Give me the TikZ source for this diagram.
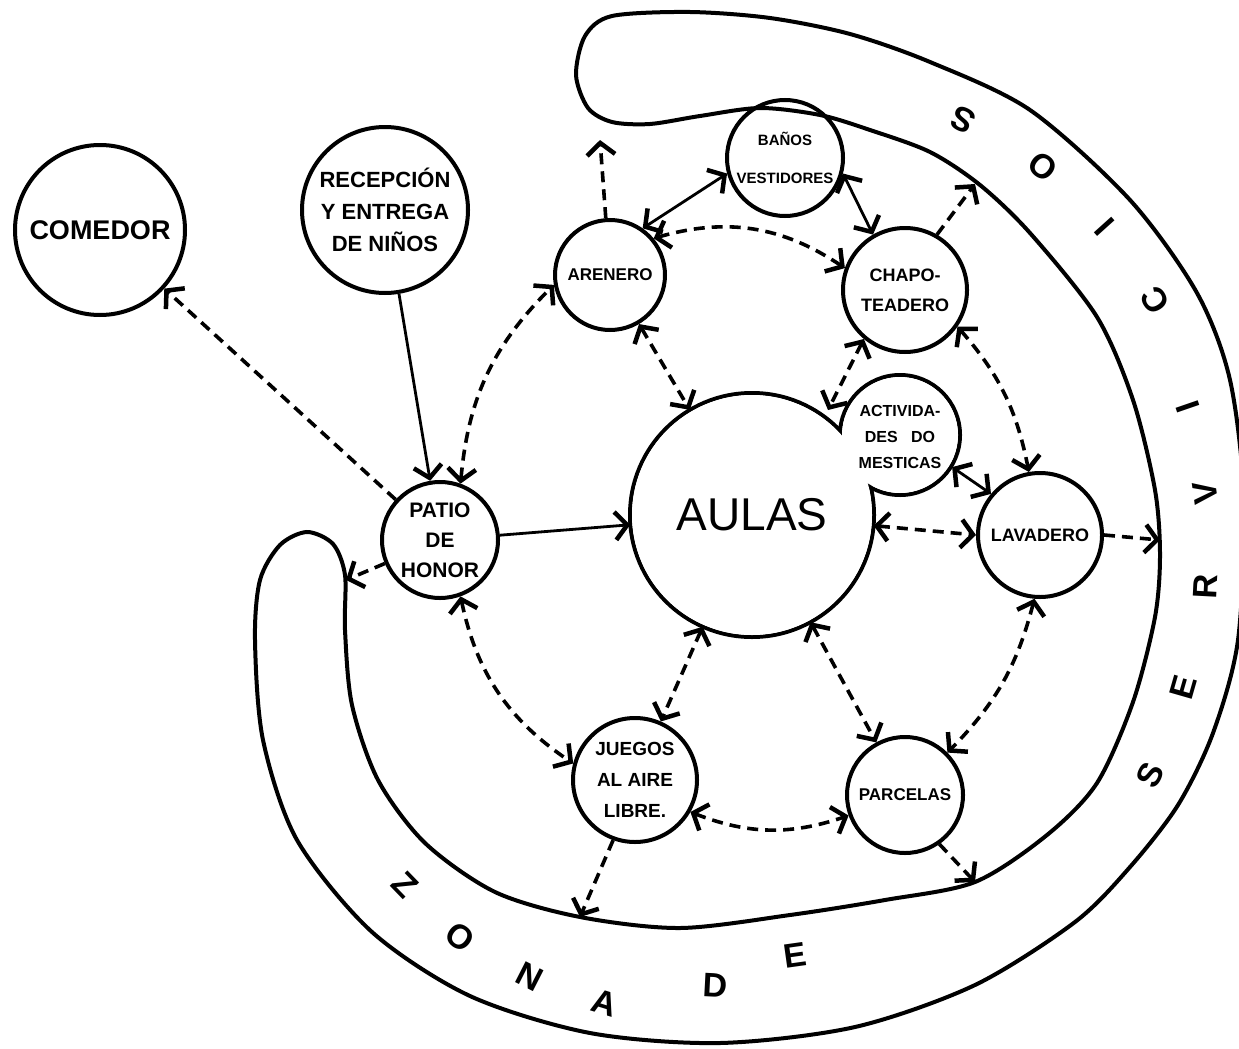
\documentclass[tikz,border=0pt]{standalone}
\usepackage{fontspec}
\setmainfont{Liberation Sans}
\usetikzlibrary{arrows.meta}
\begin{document}
\begin{tikzpicture}[x=1pt,y=-1pt,
  room/.style={circle,draw,line width=4pt,inner sep=0pt,align=center},
  dashline/.style={line width=3.6pt,dash pattern=on 11pt off 7pt},
  solidline/.style={line width=2.8pt},
  onehead/.style={-{Straight Barb[length=12pt,width=28pt,line width=4.5pt]}},
  twoheads/.style={{Straight Barb[length=12pt,width=28pt,line width=4.5pt]}-{Straight Barb[length=12pt,width=28pt,line width=4.5pt]}},
  bandletter/.style={font=\bfseries\fontsize{34}{34}\selectfont,inner sep=0pt}
]
\useasboundingbox (0,0) rectangle (1239,1049);
\fill[white] (0,0) rectangle (1239,1049);

% service band
\draw[line width=4pt] plot[smooth cycle] coordinates {
 (612,16) (690,12) (770,18) (850,34) (930,62) (1030,110) (1130,200) (1197,293)
 (1230,380) (1244,500) (1238,640) (1213,733) (1178,805) (1130,867) (1075,922)
 (975,985) (855,1027) (720,1043) (590,1033) (470,996) (372,932) (297,840)
 (263,740) (255,640) (260,580) (280,545) (307,532) (333,544) (345,575)
 (345,630) (352,705) (378,780) (425,843) (495,892) (580,917) (680,928)
 (790,915) (885,900) (975,882) (1047,835) (1097,783) (1133,702) (1155,617)
 (1160,555) (1155,490) (1133,400) (1097,317) (1030,233) (980,185) (930,152)
 (870,130) (820,115) (760,108) (700,116) (650,124) (612,122) (588,108)
 (576,75) (585,36)};

% union outline of AULAS and ACTIVIDADES DOMESTICAS
\draw[line width=4pt] (752,515) circle[radius=122pt];
\draw[line width=4pt] (900,435) circle[radius=60pt];
\fill[white] (752,515) circle[radius=120pt];
\fill[white] (900,435) circle[radius=58pt];

% rooms
\node[room,minimum size=170pt,font=\bfseries\fontsize{27}{28}\selectfont] (comedor) at (100,230) {COMEDOR};
\node[room,minimum size=166pt,font=\bfseries\fontsize{22}{32}\selectfont] (recep) at (385,210) {RECEPCIÓN\\Y ENTREGA\\DE NIÑOS};
\node[room,minimum size=110pt,font=\bfseries\fontsize{17}{18}\selectfont] (arenero) at (610,275) {ARENERO};
\node[room,minimum size=116pt,font=\bfseries\fontsize{15}{38}\selectfont] (banos) at (785,158) {BAÑOS\\VESTIDORES};
\node[room,minimum size=124pt,font=\bfseries\fontsize{18}{30}\selectfont] (chapo) at (905,290) {CHAPO-\\TEADERO};
\node[circle,inner sep=0pt,align=center,minimum size=120pt,font=\bfseries\fontsize{16}{26}\selectfont] (act) at (900,437) {ACTIVIDA-\\DES~~~DO\\MESTICAS};
\node[circle,inner sep=0pt,minimum size=244pt,font=\fontsize{46}{46}\selectfont] (aulas) at (752,515) {AULAS};
\node[room,minimum size=124pt,font=\bfseries\fontsize{18}{20}\selectfont] (lav) at (1040,535) {LAVADERO};
\node[room,minimum size=116pt,font=\bfseries\fontsize{17}{20}\selectfont] (parc) at (905,795) {PARCELAS};
\node[room,minimum size=124pt,font=\bfseries\fontsize{19}{31}\selectfont] (juegos) at (635,780) {JUEGOS\\AL AIRE\\LIBRE.};
\node[room,minimum size=116pt,font=\bfseries\fontsize{21}{30}\selectfont] (patio) at (440,540) {PATIO\\DE\\HONOR};

% free ends on the band
\coordinate (bandA) at (600,140);
\coordinate (bandC) at (975,184);
\coordinate (bandL) at (1160,540);
\coordinate (bandP) at (346,580);
\coordinate (bandJ) at (580,917);
\coordinate (bandPa) at (975,882);
\coordinate (notch) at (828,410);

% connectors
\draw[dashline,onehead] (patio) -- (comedor);
\draw[solidline,onehead] (recep) -- (patio);
\draw[solidline,onehead] (patio) -- (aulas);
\draw[dashline,onehead] (patio) -- (bandP);
\draw[dashline,twoheads] (patio.-70) to[bend right=22] (juegos.165);
\draw[dashline,twoheads] (patio.70) to[bend left=20] (arenero.190);
\draw[dashline,twoheads] (arenero) -- (aulas);
\draw[dashline,onehead] (arenero) -- (bandA);
\draw[solidline,twoheads] (arenero.55) -- (banos.195);
\draw[dashline,twoheads] (arenero.40) to[bend left=25] (chapo.160);
\draw[solidline,twoheads] (banos.-15) -- (chapo.120);
\draw[dashline,onehead] (chapo.60) -- (bandC);
\draw[dashline,twoheads] (chapo.-130) -- (notch);
\draw[dashline,twoheads] (chapo.-35) to[bend left=15] (lav.100);
\draw[solidline,twoheads] (act.-30) -- (lav.140);
\draw[dashline,twoheads] (aulas.-5) -- (lav.west);
\draw[dashline,onehead] (lav.east) -- (bandL);
\draw[dashline,twoheads] (lav.-95) to[bend left=15] (parc.45);
\draw[dashline,twoheads] (aulas) -- (parc);
\draw[dashline,twoheads] (aulas) -- (juegos);
\draw[dashline,twoheads] (juegos.-30) to[bend right=20] (parc.200);
\draw[dashline,onehead] (juegos.-110) -- (bandJ);
\draw[dashline,onehead] (parc.-55) -- (bandPa);

% band lettering
\node[bandletter,rotate=-46] (l1) at (405,885) {Z};
\node[bandletter,rotate=-37] (l2) at (460,937) {O};
\node[bandletter,rotate=-27] (l3) at (530,977) {N};
\node[bandletter,rotate=-17] (l4) at (605,1003) {A};
\node[bandletter,rotate=-3] (l5) at (715,985) {D};
\node[bandletter,rotate=8] (l6) at (795,955) {E};
\node[bandletter,rotate=63] (l7) at (1150,775) {S};
\node[bandletter,rotate=74] (l8) at (1183,687) {E};
\node[bandletter,rotate=87] (l9) at (1205,587) {R};
\node[bandletter,rotate=98] (l10) at (1205,493) {V};
\node[bandletter,rotate=109] (l11) at (1188,407) {I};
\node[bandletter,rotate=122] (l12) at (1155,300) {C};
\node[bandletter,rotate=132] (l13) at (1105,227) {I};
\node[bandletter,rotate=142] (l14) at (1043,167) {O};
\node[bandletter,rotate=153] (l15) at (963,120) {S};
\end{tikzpicture}
\end{document}
